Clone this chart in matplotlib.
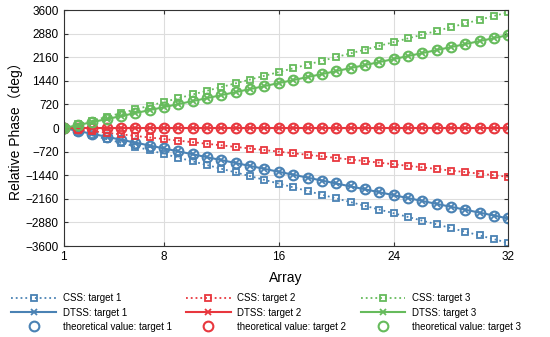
import matplotlib
matplotlib.use("Agg")
import matplotlib.pyplot as plt

plt.rcParams["font.family"] = ["Liberation Sans", "Noto Sans CJK SC", "DejaVu Sans"]

array_idx = list(range(1, 33))

css_t1 = [0, -113, -226, -339, -452, -565, -678, -791, -904, -1017, -1130, -1243,
          -1356, -1469, -1582, -1695, -1808, -1921, -2034, -2147, -2260, -2373,
          -2486, -2599, -2712, -2825, -2938, -3051, -3164, -3277, -3390, -3503]
dtss_t1 = [0, -89, -178, -267, -356, -445, -534, -623, -712, -801, -890, -979,
           -1068, -1157, -1246, -1335, -1424, -1513, -1602, -1691, -1780, -1869,
           -1958, -2047, -2136, -2225, -2314, -2403, -2492, -2581, -2670, -2759]
theory_t1 = list(dtss_t1)

css_t2 = [0, -48, -96, -144, -192, -240, -288, -336, -384, -432, -480, -528,
          -576, -624, -672, -720, -768, -816, -864, -912, -960, -1008, -1056,
          -1104, -1152, -1200, -1248, -1296, -1344, -1392, -1440, -1488]
dtss_t2 = [0] * 32
theory_t2 = [0] * 32

css_t3 = [0, 114, 228, 342, 456, 570, 684, 798, 912, 1026, 1140, 1254, 1368,
          1482, 1596, 1710, 1824, 1938, 2052, 2166, 2280, 2394, 2508, 2622,
          2736, 2850, 2964, 3078, 3192, 3306, 3420, 3534]
dtss_t3 = [0, 92, 183, 275, 366, 458, 549, 641, 732, 824, 915, 1007, 1098,
           1190, 1281, 1373, 1464, 1556, 1647, 1739, 1830, 1922, 2013, 2105,
           2196, 2288, 2379, 2471, 2562, 2654, 2745, 2837]
theory_t3 = list(dtss_t3)

colors = ["#4a82b4", "#e8373e", "#66bb5c"]
targets = [
    ("target 1", css_t1, dtss_t1, theory_t1),
    ("target 2", css_t2, dtss_t2, theory_t2),
    ("target 3", css_t3, dtss_t3, theory_t3),
]

fig = plt.figure(figsize=(5.5, 3.37), dpi=100)
ax = fig.add_axes([0.116, 0.270, 0.808, 0.700])

handles = []
for (name, css, dtss, theo), c in zip(targets, colors):
    h1, = ax.plot(array_idx, css, ls=":", color=c, lw=1.3, marker="s", ms=5,
                  mfc="none", mew=1.3, label=f"CSS: {name}")
    h2, = ax.plot(array_idx, dtss, ls="-", color=c, lw=1.5, marker="x", ms=4.5,
                  mew=1.3, label=f"DTSS: {name}")
    h3, = ax.plot(array_idx, theo, ls="none", color=c, marker="o", ms=7,
                  mfc="none", mew=1.5, label=f"theoretical value: {name}")
    handles += [h1, h2, h3]

ax.set_xlim(1, 32)
ax.set_ylim(-3600, 3600)
ax.set_xticks([1, 8, 16, 24, 32])
ax.set_yticks(range(-3600, 3601, 720))
ax.grid(True, color="#dddddd", lw=0.8)
ax.set_axisbelow(True)
ax.tick_params(direction="in", top=True, right=True, labelsize=8.5,
               color="#333333", length=3)
for s in ax.spines.values():
    s.set_color("#333333")
    s.set_linewidth(0.8)

ax.set_xlabel("Array", fontsize=10, labelpad=6)
ax.set_ylabel("Relative Phase（deg）", fontsize=10, labelpad=2)

fig.legend(handles=handles, ncol=3, loc="lower center",
           bbox_to_anchor=(0.484, -0.005), frameon=False, fontsize=7,
           handlelength=4.6, columnspacing=1.45, labelspacing=0.45,
           handletextpad=0.7, borderpad=0.2)

fig.savefig("out.png", dpi=100)
